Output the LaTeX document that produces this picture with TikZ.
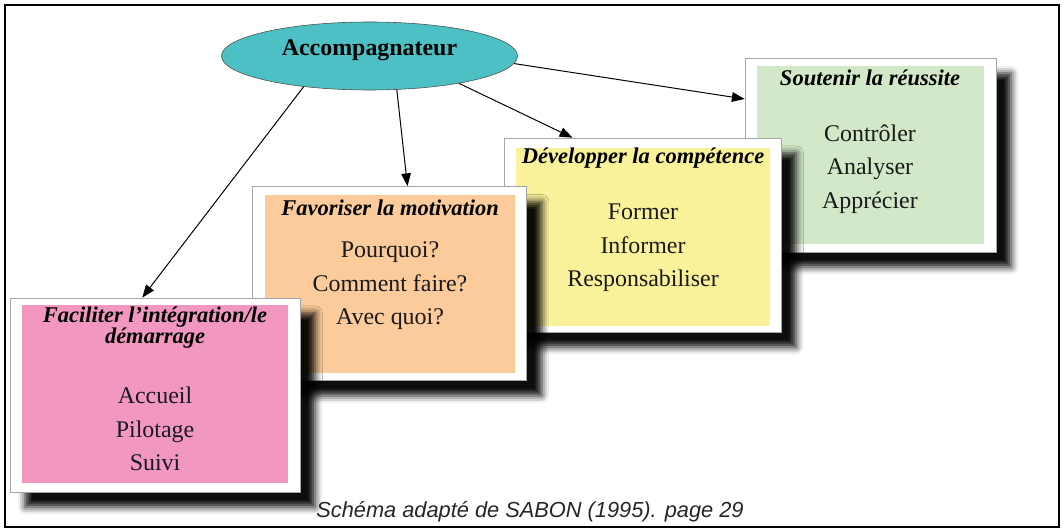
\documentclass[tikz,border=0pt]{standalone}
\usepackage{fontspec}
\setmainfont{Liberation Serif}
\setsansfont{Liberation Sans}
\usetikzlibrary{shapes.geometric,arrows.meta,shadows.blur}

\definecolor{turquoise}{RGB}{76,192,196}
\definecolor{rose}{RGB}{242,152,192}
\definecolor{abricot}{RGB}{251,203,155}
\definecolor{jaune}{RGB}{249,242,155}
\definecolor{vert}{RGB}{210,232,200}

\begin{document}
\begin{tikzpicture}[x=0.025cm, y=-0.025cm,
    cadre/.style={draw=gray!70, fill=white, rectangle, minimum height=4.85cm,
                  blur shadow={shadow xshift=0.38cm, shadow yshift=-0.38cm,
                               shadow blur radius=0.18cm, shadow opacity=95}},
    fond/.style={rectangle, minimum height=4.45cm, inner sep=0pt},
    titre/.style={font=\fontsize{16}{15}\selectfont\bfseries\itshape, align=center},
    items/.style={font=\fontsize{17}{23.8}\selectfont, align=center, text=black!90},
    fleche/.style={-{Triangle[length=0.32cm, width=0.24cm]}, line width=0.7pt}
]
\useasboundingbox (0,0) rectangle (1063,530);
\draw[line width=1.4pt] (5,5) rectangle (1059,527);

% Soutenir la reussite
\node[cadre, minimum width=6.275cm] (c4) at (870.5,155) {};
\node[fond, fill=vert, minimum width=5.65cm] (f4) at (c4) {};
\node[titre] (t4) at (870,78) {Soutenir la réussite};
\node[items] (i4) at (870,169) {Contrôler\\Analyser\\Apprécier};

% Developper la competence
\node[cadre, minimum width=6.925cm] (c3) at (642.5,235) {};
\node[fond, fill=jaune, minimum width=6.35cm] (f3) at (643,237) {};
\node[titre] (t3) at (643,158) {Développer la compétence};
\node[items] (i3) at (643,248) {Former\\Informer\\Responsabiliser};

% Favoriser la motivation
\node[cadre, minimum width=6.85cm] (c2) at (389.5,283.5) {};
\node[fond, fill=abricot, minimum width=6.25cm] (f2) at (390,284) {};
\node[titre] (t2) at (390,208) {Favoriser la motivation};
\node[items] (i2) at (390,286) {Pourquoi?\\Comment faire?\\Avec quoi?};

% Faciliter l'integration
\node[cadre, minimum width=7.25cm] (c1) at (155,395) {};
\node[fond, fill=rose, minimum width=6.65cm] (f1) at (155,394) {};
\node[titre] (t1) at (155,328) {Faciliter l’intégration/le\\démarrage};
\node[items] (i1) at (155,429) {Accueil\\Pilotage\\Suivi};

% Accompagnateur
\node[ellipse, draw=black!70, fill=turquoise, minimum width=7.4cm,
      minimum height=1.7cm] (acc) at (369.5,56) {};
\node[font=\fontsize{17}{20}\selectfont\bfseries] (acc-txt) at (369.5,50) {Accompagnateur};

\draw[fleche] (acc.205) -- ([xshift=-0.32cm]c1.north);
\draw[fleche] (acc.-51) -- ([xshift=0.45cm]c2.north);
\draw[fleche] (acc.-17) -- ([xshift=-1.75cm]c3.north);
\draw[fleche] (acc.-3) -- ([yshift=1.4cm]c4.west);

\node[font=\sffamily\itshape\fontsize{15.5}{18}\selectfont, text=black!85]
  (legende) at (530,512) {Schéma adapté de SABON (1995). page 29};

\end{tikzpicture}
\end{document}
